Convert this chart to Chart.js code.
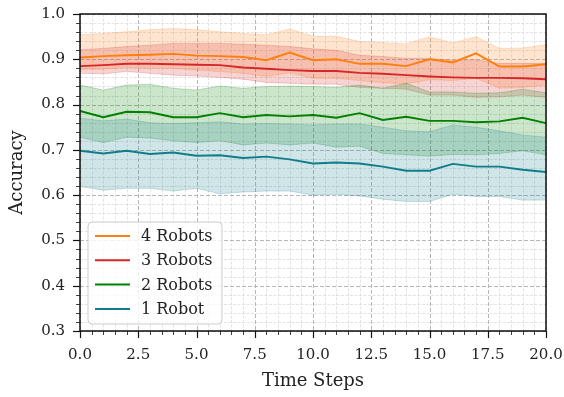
<!DOCTYPE html>
<html>
<head>
<meta charset="utf-8">
<script src="https://cdn.jsdelivr.net/npm/chart.js@4.4.1/dist/chart.umd.min.js"></script>
<style>
  html, body { margin: 0; padding: 0; background: #ffffff; }
  #wrap { width: 564px; height: 397px; }
</style>
</head>
<body>
<div id="wrap"><canvas id="c" width="564" height="397"></canvas></div>
<script>
// ---------------- DATA ----------------
const timeSteps = [0,1,2,3,4,5,6,7,8,9,10,11,12,13,14,15,16,17,18,19,20];

const seriesLabels = ['4 Robots', '3 Robots', '2 Robots', '1 Robot'];

const robots4Mean  = [0.904,0.907,0.909,0.910,0.912,0.908,0.907,0.905,0.898,0.915,0.898,0.900,0.890,0.890,0.885,0.900,0.893,0.913,0.884,0.884,0.889];
const robots4Upper = [0.954,0.957,0.961,0.965,0.968,0.965,0.961,0.957,0.954,0.967,0.951,0.951,0.939,0.937,0.934,0.950,0.936,0.950,0.924,0.925,0.932];
const robots4Lower = [0.878,0.878,0.882,0.880,0.880,0.876,0.873,0.869,0.862,0.870,0.858,0.858,0.853,0.848,0.846,0.855,0.853,0.858,0.836,0.838,0.843];

const robots3Mean  = [0.885,0.887,0.890,0.890,0.889,0.888,0.887,0.882,0.879,0.876,0.874,0.874,0.870,0.868,0.865,0.862,0.860,0.859,0.859,0.858,0.856];
const robots3Upper = [0.921,0.924,0.928,0.931,0.935,0.935,0.935,0.933,0.931,0.928,0.923,0.920,0.909,0.906,0.902,0.902,0.898,0.899,0.891,0.891,0.891];
const robots3Lower = [0.869,0.868,0.873,0.869,0.865,0.863,0.860,0.856,0.849,0.847,0.845,0.845,0.838,0.836,0.834,0.821,0.821,0.816,0.817,0.821,0.816];

const robots2Mean  = [0.786,0.772,0.784,0.783,0.772,0.772,0.781,0.772,0.777,0.774,0.777,0.771,0.781,0.766,0.773,0.764,0.764,0.761,0.763,0.771,0.759];
const robots2Upper = [0.843,0.832,0.843,0.845,0.836,0.832,0.841,0.836,0.840,0.841,0.840,0.838,0.843,0.836,0.847,0.828,0.828,0.825,0.826,0.834,0.826];
const robots2Lower = [0.728,0.716,0.728,0.726,0.720,0.716,0.720,0.711,0.715,0.711,0.715,0.706,0.708,0.692,0.689,0.686,0.690,0.689,0.692,0.698,0.689];

const robots1Mean  = [0.698,0.692,0.698,0.691,0.694,0.687,0.688,0.682,0.685,0.679,0.670,0.672,0.670,0.663,0.654,0.654,0.669,0.663,0.663,0.656,0.651];
const robots1Upper = [0.770,0.764,0.768,0.760,0.758,0.760,0.762,0.757,0.758,0.757,0.755,0.757,0.757,0.750,0.742,0.740,0.755,0.750,0.742,0.733,0.728];
const robots1Lower = [0.619,0.611,0.615,0.615,0.609,0.615,0.603,0.607,0.609,0.609,0.600,0.602,0.598,0.591,0.586,0.586,0.602,0.597,0.597,0.589,0.589];

const xTickLabels = ['0.0','2.5','5.0','7.5','10.0','12.5','15.0','17.5','20.0'];
const yTickLabels = ['0.3','0.4','0.5','0.6','0.7','0.8','0.9','1.0'];

// ---------------- STYLE ----------------
const COLORS = { r4: [255,127,14], r3: [214,39,40], r2: [0,128,0], r1: [16,125,138] };
const rgba = (c, a) => `rgba(${c[0]},${c[1]},${c[2]},${a})`;
const FONT = "'DejaVu Serif', 'Liberation Serif', serif";

const xMajor = xTickLabels.map(Number);
const yMajor = yTickLabels.map(Number);

function pts(ys) { return timeSteps.map((x, i) => ({ x: x, y: ys[i] })); }

function band(upper, lower, col) {
  return [
    { data: pts(upper), borderColor: rgba(col, 0.22), borderWidth: 1, backgroundColor: rgba(col, 0.2),
      fill: '+1', pointRadius: 0, tension: 0, order: 2 },
    { data: pts(lower), borderColor: rgba(col, 0.22), borderWidth: 1, backgroundColor: 'transparent',
      fill: false, pointRadius: 0, tension: 0, order: 2 }
  ];
}
function meanLine(label, ys, col) {
  return { label: label, data: pts(ys), borderColor: rgba(col, 1), borderWidth: 1.9, fill: false,
           pointRadius: 0, tension: 0, order: 1 };
}

const datasets = [
  ...band(robots1Upper, robots1Lower, COLORS.r1),
  ...band(robots2Upper, robots2Lower, COLORS.r2),
  ...band(robots3Upper, robots3Lower, COLORS.r3),
  ...band(robots4Upper, robots4Lower, COLORS.r4),
  meanLine(seriesLabels[3], robots1Mean, COLORS.r1),
  meanLine(seriesLabels[2], robots2Mean, COLORS.r2),
  meanLine(seriesLabels[1], robots3Mean, COLORS.r3),
  meanLine(seriesLabels[0], robots4Mean, COLORS.r4),
];

// ---------------- PLUGIN: grid, frame, ticks, legend ----------------
const decor = {
  id: 'decor',
  beforeDatasetsDraw(chart) {
    const { ctx, chartArea: a, scales: { x, y } } = chart;
    ctx.save();
    // minor grid
    ctx.strokeStyle = '#dcdcdc'; ctx.lineWidth = 0.8; ctx.setLineDash([3, 1.5]);
    for (let v = 0; v <= 20.0001; v += 0.5) {
      if (Math.abs(v / 2.5 - Math.round(v / 2.5)) < 1e-6) continue;
      const px = Math.round(x.getPixelForValue(v)) + 0.5;
      ctx.beginPath(); ctx.moveTo(px, a.top); ctx.lineTo(px, a.bottom); ctx.stroke();
    }
    for (let k = 15; k <= 50; k++) {
      if (k % 5 === 0) continue;
      const py = Math.round(y.getPixelForValue(k * 0.02)) + 0.5;
      ctx.beginPath(); ctx.moveTo(a.left, py); ctx.lineTo(a.right, py); ctx.stroke();
    }
    // major grid
    ctx.strokeStyle = '#b8b8b8'; ctx.lineWidth = 1; ctx.setLineDash([4, 2]);
    xMajor.forEach(v => {
      const px = Math.round(x.getPixelForValue(v)) + 0.5;
      ctx.beginPath(); ctx.moveTo(px, a.top); ctx.lineTo(px, a.bottom); ctx.stroke();
    });
    yMajor.forEach(v => {
      const py = Math.round(y.getPixelForValue(v)) + 0.5;
      ctx.beginPath(); ctx.moveTo(a.left, py); ctx.lineTo(a.right, py); ctx.stroke();
    });
    ctx.restore();
  },
  afterDatasetsDraw(chart) {
    const { ctx, chartArea: a, scales: { x, y } } = chart;
    ctx.save();
    ctx.setLineDash([]);
    ctx.strokeStyle = '#111';
    // ticks
    for (let v = 0; v <= 20.0001; v += 0.5) {
      const major = Math.abs(v / 2.5 - Math.round(v / 2.5)) < 1e-6;
      const px = Math.round(x.getPixelForValue(v)) + 0.5;
      ctx.lineWidth = major ? 1.2 : 0.8;
      ctx.beginPath(); ctx.moveTo(px, a.bottom); ctx.lineTo(px, a.bottom + (major ? 7 : 4)); ctx.stroke();
    }
    for (let k = 15; k <= 50; k++) {
      const major = k % 5 === 0;
      const py = Math.round(y.getPixelForValue(k * 0.02)) + 0.5;
      ctx.lineWidth = major ? 1.2 : 0.8;
      ctx.beginPath(); ctx.moveTo(a.left, py); ctx.lineTo(a.left - (major ? 7 : 4), py); ctx.stroke();
    }
    // frame
    ctx.lineWidth = 1.5;
    ctx.strokeRect(a.left, a.top, a.right - a.left, a.bottom - a.top);

    // legend
    const lx = 88, ly = 222, lw = 134, lh = 102, r = 4;
    ctx.beginPath();
    ctx.moveTo(lx + r, ly); ctx.lineTo(lx + lw - r, ly); ctx.quadraticCurveTo(lx + lw, ly, lx + lw, ly + r);
    ctx.lineTo(lx + lw, ly + lh - r); ctx.quadraticCurveTo(lx + lw, ly + lh, lx + lw - r, ly + lh);
    ctx.lineTo(lx + r, ly + lh); ctx.quadraticCurveTo(lx, ly + lh, lx, ly + lh - r);
    ctx.lineTo(lx, ly + r); ctx.quadraticCurveTo(lx, ly, lx + r, ly);
    ctx.closePath();
    ctx.fillStyle = 'rgba(255,255,255,0.8)'; ctx.fill();
    ctx.strokeStyle = '#cccccc'; ctx.lineWidth = 1; ctx.stroke();
    const legendCols = [COLORS.r4, COLORS.r3, COLORS.r2, COLORS.r1];
    ctx.font = '16px ' + FONT; ctx.textBaseline = 'middle'; ctx.textAlign = 'left';
    seriesLabels.forEach((lab, i) => {
      const cy = 236 + i * 24.3;
      ctx.strokeStyle = rgba(legendCols[i], 1); ctx.lineWidth = 2;
      ctx.beginPath(); ctx.moveTo(95, cy); ctx.lineTo(130, cy); ctx.stroke();
      ctx.fillStyle = '#222';
      ctx.fillText(lab, 141, cy + 1);
    });
    ctx.restore();
  }
};

// ---------------- CHART ----------------
new Chart(document.getElementById('c'), {
  type: 'line',
  data: { datasets },
  plugins: [decor],
  options: {
    responsive: false,
    animation: false,
    devicePixelRatio: 1,
    layout: { padding: { left: 0, right: 18, top: 14, bottom: 0 } },
    plugins: { legend: { display: false }, tooltip: { enabled: false } },
    scales: {
      x: {
        type: 'linear', min: 0, max: 20,
        grid: { display: false, drawTicks: false },
        border: { display: false },
        afterBuildTicks: s => { s.ticks = xMajor.map(v => ({ value: v })); },
        afterFit: s => { s.height = 66; s.paddingLeft = 0; s.paddingRight = 0; },
        ticks: {
          autoSkip: false, maxRotation: 0, padding: 15, color: '#222',
          font: { family: FONT, size: 15 },
          callback: (v) => { const i = xMajor.indexOf(v); return i >= 0 ? xTickLabels[i] : ''; }
        },
        title: { display: true, text: 'Time Steps', color: '#222',
                 font: { family: FONT, size: 18 }, padding: { top: 0, bottom: 5 } }
      },
      y: {
        type: 'linear', min: 0.3, max: 1.0,
        grid: { display: false, drawTicks: false },
        border: { display: false },
        afterBuildTicks: s => { s.ticks = yMajor.map(v => ({ value: v })); },
        afterFit: s => { s.width = 80; s.paddingTop = 0; s.paddingBottom = 0; },
        ticks: {
          autoSkip: false, padding: 15, color: '#222',
          font: { family: FONT, size: 15 },
          callback: (v) => { const i = yMajor.findIndex(m => Math.abs(m - v) < 1e-9); return i >= 0 ? yTickLabels[i] : ''; }
        },
        title: { display: true, text: 'Accuracy', color: '#222',
                 font: { family: FONT, size: 18 }, padding: { top: 7, bottom: 0 } }
      }
    }
  }
});
</script>
</body>
</html>
